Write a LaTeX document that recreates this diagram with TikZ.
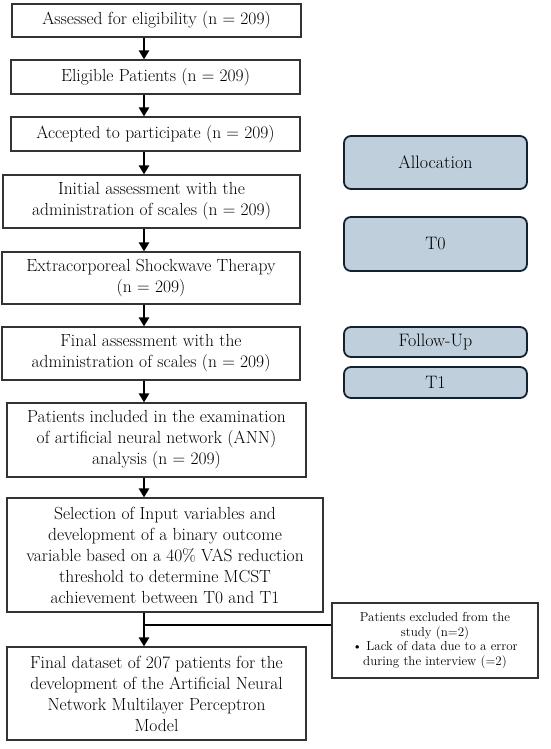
\documentclass[tikz,border=0pt]{standalone}
\usetikzlibrary{arrows.meta}
\definecolor{bluefill}{HTML}{BFD0DC}
\definecolor{blueline}{HTML}{14222F}
\definecolor{boxline}{HTML}{333333}
\begin{document}
\begin{tikzpicture}[x=1pt,y=-1pt,
  flow/.style={draw=boxline,line width=1.1pt,fill=white,align=center,inner sep=0pt,
    font=\fontsize{17.5}{21}\selectfont},
  side/.style={draw=blueline,line width=1.8pt,fill=bluefill,rounded corners=7pt,align=center,
    inner sep=0pt,minimum width=183pt,font=\fontsize{18}{20}\selectfont},
  excl/.style={draw=boxline,line width=1.1pt,fill=white,align=center,inner sep=0pt,
    font=\fontsize{13}{14.5}\selectfont},
  arr/.style={line width=2.2pt,-{Triangle[width=10pt,length=9pt]}},
  link/.style={line width=2.2pt}]
\useasboundingbox (0,0) rectangle (550,749);
\coordinate (ax) at (144,0);
\node[flow,minimum width=289pt,minimum height=33pt] (b1) at (156.5,20.5) {Assessed for eligibility (n = 209)};
\node[flow,minimum width=289pt,minimum height=34pt] (b2) at (155.5,77) {Eligible Patients (n = 209)};
\node[flow,minimum width=289pt,minimum height=34pt] (b3) at (155.5,134) {Accepted to participate (n = 209)};
\node[flow,minimum width=297pt,minimum height=53pt] (b4) at (151.5,201.5) {Initial assessment with the\\administration of scales (n = 209)};
\node[flow,minimum width=298pt,minimum height=52pt] (b5) at (151,278) {Extracorporeal Shockwave Therapy\\(n = 209)};
\node[flow,minimum width=298pt,minimum height=53pt] (b6) at (151,353.5) {Final assessment with the\\administration of scales (n = 209)};
\node[flow,minimum width=299pt,minimum height=74pt] (b7) at (156.5,440) {Patients included in the examination\\of artificial neural network (ANN)\\analysis (n = 209)};
\node[flow,minimum width=316pt,minimum height=114pt] (b8) at (165,555) {Selection of Input variables and\\development of a binary outcome\\variable based on a 40\% VAS reduction\\threshold to determine MCST\\achievement between T0 and T1};
\node[flow,minimum width=299pt,minimum height=93pt] (b9) at (156.5,693.5) {Final dataset of 207 patients for the\\development of the Artificial Neural\\Network Multilayer Perceptron\\Model};
\node[side,minimum height=53pt] (alloc) at (435.5,162.5) {Allocation};
\node[side,minimum height=54pt] (t0) at (435.5,244) {T0};
\node[side,minimum height=30pt] (fu) at (435.5,342) {Follow-Up};
\node[side,minimum height=31pt] (t1) at (435.5,382.5) {T1};
\node[excl,minimum width=206pt,minimum height=75pt] (ex) at (435,640.5) {Patients excluded from the\\study (n=2)\\\textbullet{} Lack of data due to a error\\during the interview (=2)};
\draw[arr] (b1.south -| ax) -- (b2.north -| ax);
\draw[arr] (b2.south -| ax) -- (b3.north -| ax);
\draw[arr] (b3.south -| ax) -- (b4.north -| ax);
\draw[arr] (b4.south -| ax) -- (b5.north -| ax);
\draw[arr] (b5.south -| ax) -- (b6.north -| ax);
\draw[arr] (b6.south -| ax) -- (b7.north -| ax);
\draw[arr] (b7.south -| ax) -- (b8.north -| ax);
\draw[arr] (b8.south -| ax) -- (b9.north -| ax);
\coordinate (jn) at (144,625);
\draw[link] (jn) -- (jn -| ex.west);
\end{tikzpicture}
\end{document}
